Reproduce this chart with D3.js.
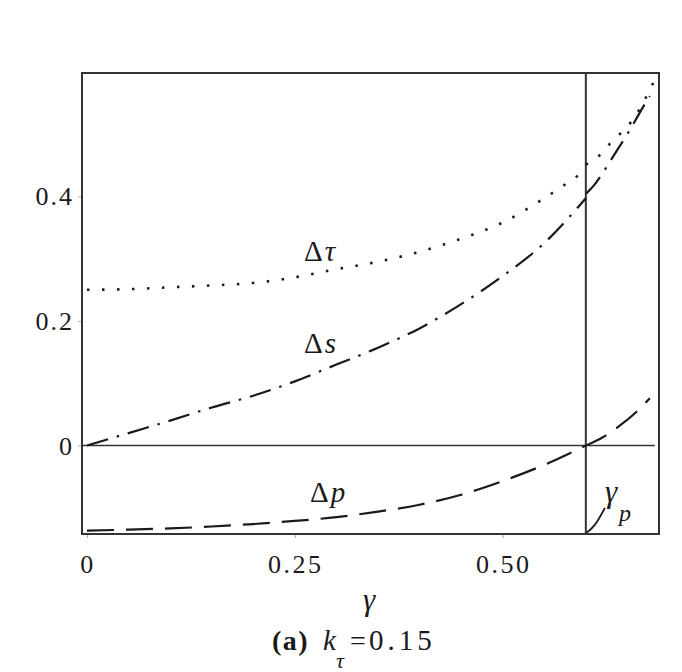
<!DOCTYPE html>
<html>
<head>
<meta charset="utf-8">
<script src="https://cdn.jsdelivr.net/npm/d3@7"></script>
<style>
  html, body { margin: 0; padding: 0; background: #ffffff; }
  svg { display: block; }
  text { font-family: "Liberation Serif", serif; fill: #1a1a1a; }
</style>
</head>
<body>
<svg id="chart" width="682" height="672"></svg>
<script>
// ---------------- data ----------------
const xTicks = [0, 0.25, 0.5];
const xTickLabels = ["0", "0.25", "0.50"];
const yTicks = [0, 0.2, 0.4];
const yTickLabels = ["0", "0.2", "0.4"];
const gammaP = 0.6;

// Δτ (dotted), piecewise around γp
const tauGammaLeft = [0, 0.05, 0.1, 0.15, 0.2, 0.25, 0.3, 0.35, 0.4, 0.45, 0.5, 0.55, 0.6];
const tauLeft      = [0.25, 0.251, 0.254, 0.257, 0.261, 0.27, 0.283, 0.295, 0.311, 0.332, 0.358, 0.397, 0.442];
const tauGammaRight = [0.6, 0.61, 0.62, 0.63, 0.64, 0.65, 0.66, 0.67, 0.681];
const tauRight      = [0.451, 0.459, 0.47, 0.486, 0.499, 0.512, 0.53, 0.553, 0.582];

// Δs (dash-dot), piecewise around γp
const sGammaLeft = [0, 0.05, 0.1, 0.15, 0.2, 0.25, 0.3, 0.35, 0.4, 0.45, 0.5, 0.55, 0.6];
const sLeft      = [0, 0.02, 0.04, 0.061, 0.08, 0.103, 0.13, 0.157, 0.188, 0.227, 0.272, 0.325, 0.397];
const sGammaRight = [0.6, 0.61, 0.62, 0.63, 0.64, 0.65, 0.66, 0.67, 0.677];
const sRight      = [0.404, 0.418, 0.437, 0.458, 0.479, 0.5, 0.523, 0.546, 0.561];

// Δp (dashed), continuous
const pGamma = [0, 0.05, 0.1, 0.15, 0.2, 0.25, 0.3, 0.35, 0.4, 0.45, 0.5, 0.55, 0.6, 0.62, 0.64, 0.66, 0.677];
const pValues = [-0.1365, -0.135, -0.133, -0.13, -0.126, -0.121, -0.115, -0.106, -0.095, -0.079, -0.057, -0.031, 0, 0.013, 0.031, 0.053, 0.076];

// γp pointer curve (annotation)
const pointerGamma = [0.6, 0.611, 0.623];
const pointerValue = [-0.141, -0.127, -0.1];

// ---------------- drawing ----------------
const svg = d3.select("#chart");
const mLeft = 82, mRight = 659, mTop = 73, mBottom = 534;

const x = d3.scaleLinear().domain([-0.006, 0.688]).range([mLeft, mRight]);
const y = d3.scaleLinear().domain([-0.142, 0.598]).range([mBottom, mTop]);

const ink = "#1a1a1a";
const frameCol = "#333";

// ticks (small outward marks)
const xAxis = d3.axisBottom(x).tickValues(xTicks).tickSize(4).tickFormat("");
const gx = svg.append("g").attr("transform", `translate(0,${mBottom})`).call(xAxis);
gx.select(".domain").remove();
gx.selectAll(".tick line").attr("stroke", "#aaa").attr("stroke-width", 1);

const yAxis = d3.axisLeft(y).tickValues(yTicks).tickSize(4).tickFormat("");
const gy = svg.append("g").attr("transform", `translate(${mLeft},0)`).call(yAxis);
gy.select(".domain").remove();
gy.selectAll(".tick line").attr("stroke", "#aaa").attr("stroke-width", 1);

// tick labels
svg.append("g").selectAll("text").data(xTicks).join("text")
  .attr("x", d => x(d) + 1)
  .attr("y", 573)
  .attr("text-anchor", "middle")
  .attr("font-size", 26)
  .attr("letter-spacing", "2.5px")
  .text((d, i) => xTickLabels[i]);

svg.append("g").selectAll("text").data(yTicks).join("text")
  .attr("x", 74)
  .attr("y", d => y(d) + 9)
  .attr("text-anchor", "end")
  .attr("font-size", 26)
  .attr("letter-spacing", "2px")
  .text((d, i) => yTickLabels[i]);

// zero line
svg.append("line")
  .attr("x1", mLeft).attr("x2", x(0.683))
  .attr("y1", y(0)).attr("y2", y(0))
  .attr("stroke", frameCol).attr("stroke-width", 1.6);

// γp vertical line
svg.append("line")
  .attr("x1", x(gammaP)).attr("x2", x(gammaP))
  .attr("y1", mTop).attr("y2", mBottom)
  .attr("stroke", frameCol).attr("stroke-width", 2);

// curves
const line = d3.line().x(d => x(d[0])).y(d => y(d[1])).curve(d3.curveMonotoneX);
function draw(gs, vs, dash, w) {
  svg.append("path")
    .datum(gs.map((g, i) => [g, vs[i]]))
    .attr("d", line)
    .attr("fill", "none")
    .attr("stroke", ink)
    .attr("stroke-width", w)
    .attr("stroke-dasharray", dash);
}
draw(tauGammaLeft, tauLeft, "2.5,12.5", 2.6);
draw(tauGammaRight, tauRight, "2.5,12.5", 2.6);
draw(sGammaLeft, sLeft, "22,9,2.5,9", 2.2);
draw(sGammaRight, sRight, "22,9,2.5,9", 2.2);
draw(pGamma, pValues, "27,12", 2.2);

// pointer
svg.append("path")
  .datum(pointerGamma.map((g, i) => [g, pointerValue[i]]))
  .attr("d", d3.line().x(d => x(d[0])).y(d => y(d[1])).curve(d3.curveMonotoneX))
  .attr("fill", "none").attr("stroke", ink).attr("stroke-width", 1.8);

// frame
svg.append("rect")
  .attr("x", mLeft).attr("y", mTop)
  .attr("width", mRight - mLeft).attr("height", mBottom - mTop)
  .attr("fill", "none").attr("stroke", frameCol).attr("stroke-width", 2);

// curve labels
function deltaLabel(xp, yp, sym) {
  const t = svg.append("text").attr("x", xp).attr("y", yp).attr("font-size", 29).attr("letter-spacing", "2px");
  t.append("tspan").text("Δ");
  t.append("tspan").attr("font-style", "italic").text(sym);
}
deltaLabel(304, 261, "τ");
deltaLabel(304, 353, "s");
deltaLabel(310, 502, "p");

// γp label
svg.append("text").attr("x", 605).attr("y", 502).attr("font-size", 31).attr("font-style", "italic").text("γ");
svg.append("text").attr("x", 619).attr("y", 521).attr("font-size", 24).attr("font-style", "italic").text("p");

// axis title
svg.append("text").attr("x", 369).attr("y", 610).attr("text-anchor", "middle")
  .attr("font-size", 31).attr("font-style", "italic").text("γ");

// caption
svg.append("text").attr("x", 272).attr("y", 650).attr("font-size", 28).attr("font-weight", "bold")
  .attr("letter-spacing", "1.5px").text("(a)");
svg.append("text").attr("x", 323).attr("y", 650).attr("font-size", 29).attr("font-style", "italic").text("k");
svg.append("text").attr("x", 336).attr("y", 668).attr("font-size", 22).attr("font-style", "italic").text("τ");
svg.append("text").attr("x", 350).attr("y", 650).attr("font-size", 28).text("=");
svg.append("text").attr("x", 369).attr("y", 650).attr("font-size", 29).attr("letter-spacing", "4px").text("0.15");
</script>
</body>
</html>
